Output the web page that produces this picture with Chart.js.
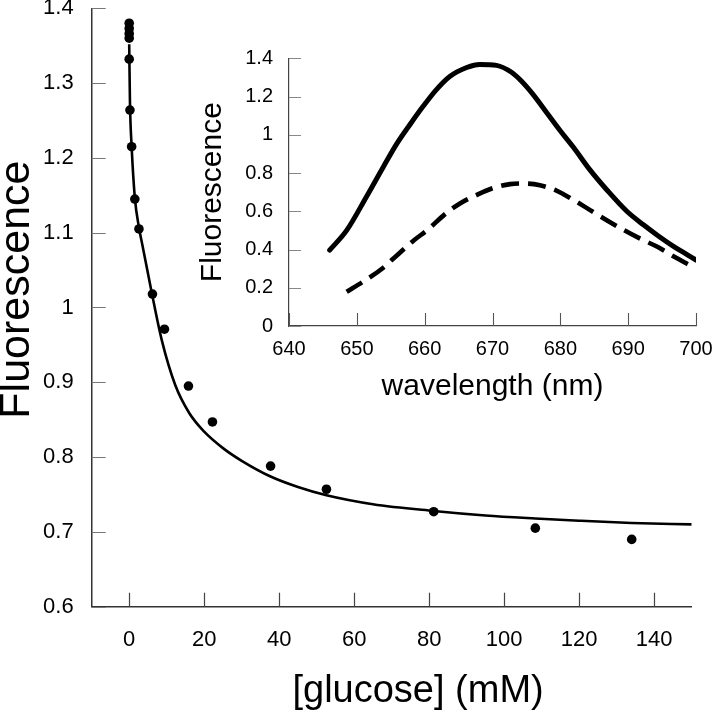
<!DOCTYPE html>
<html><head><meta charset="utf-8">
<script src="https://cdn.jsdelivr.net/npm/chart.js@4.4.1/dist/chart.umd.min.js"></script>
<style>
html,body{margin:0;padding:0;background:#fff;overflow:hidden;}
#wrap{position:relative;width:712px;height:720px;background:#fff;}
#main{position:absolute;left:0;top:0;}
#inset{position:absolute;left:190px;top:30px;}
</style></head><body>
<div id="wrap">
<canvas id="main" width="712" height="720"></canvas>
<canvas id="inset" width="522" height="390"></canvas>
</div>
<script>
// ---- DATA ----
const glucoseMM    = [0, 0, 0, 0, 0, 0.2, 0.65, 1.5, 2.6, 6.2, 9.4, 15.8, 22.2, 37.7, 52.6, 81.2, 108.3, 134];
const fluorescence = [1.380, 1.373, 1.366, 1.360, 1.332, 1.264, 1.215, 1.145, 1.105, 1.018, 0.971, 0.895, 0.847, 0.788, 0.757, 0.727, 0.705, 0.690];

const fitGlucoseMM    = [0, 0.2, 0.65, 1.5, 2.6, 3.5, 6.0, 8.7, 12.3, 16.0, 20.0, 25, 30, 37.7, 45, 52.6, 65, 81.2, 95, 108.3, 120, 134, 150];
const fitFluorescence = [1.352, 1.275, 1.215, 1.147, 1.107, 1.084, 1.020, 0.956, 0.896, 0.859, 0.834, 0.812, 0.795, 0.774, 0.760, 0.749, 0.737, 0.728, 0.722, 0.718, 0.715, 0.712, 0.710];

const mainXTicks = [0, 20, 40, 60, 80, 100, 120, 140];
const mainYTicks = [0.6, 0.7, 0.8, 0.9, 1.0, 1.1, 1.2, 1.3, 1.4];

const wavelengthSolid = [646.0, 648.5, 651.4, 653.9, 655.9, 658.1, 659.8, 661.7, 663.7, 666.2, 668.1, 670.6, 672.8, 674.0, 676.0, 678.0, 679.9, 681.9, 684.4, 686.9, 689.8, 692.3, 694.3, 696.8, 698.8, 700.0];
const fluorSolid      = [0.397, 0.500, 0.675, 0.832, 0.954, 1.067, 1.150, 1.235, 1.305, 1.352, 1.368, 1.363, 1.327, 1.290, 1.210, 1.115, 1.025, 0.936, 0.815, 0.710, 0.600, 0.528, 0.475, 0.414, 0.371, 0.345];

const wavelengthDashed = [648.5, 650.9, 653.9, 655.4, 658.3, 660.5, 663.0, 665.2, 667.6, 669.9, 672.6, 674.6, 677.0, 679.5, 681.9, 684.4, 686.9, 689.3, 691.7, 694.3, 696.8, 699.0];
const fluorDashed      = [0.179, 0.231, 0.305, 0.353, 0.445, 0.505, 0.585, 0.641, 0.684, 0.719, 0.742, 0.745, 0.736, 0.707, 0.660, 0.606, 0.552, 0.503, 0.458, 0.414, 0.362, 0.319];

const insetXTicks = [640, 650, 660, 670, 680, 690, 700];
const insetYTicks = [0, 0.2, 0.4, 0.6, 0.8, 1.0, 1.2, 1.4];

// ---- helpers ----
Chart.defaults.font.family = "'Liberation Sans', Arial, Helvetica, sans-serif";
Chart.defaults.color = '#000';

const pts = (xs, ys) => xs.map((x, i) => ({x: x, y: ys[i]}));
const fmt = v => String(Math.round(v * 10) / 10);

const innerTicks = {
  id: 'innerTicks',
  afterDatasetsDraw(chart, args, opts) {
    const ctx = chart.ctx;
    const xs = chart.scales.x, ys = chart.scales.y;
    const area = chart.chartArea;
    ctx.save();
    ctx.lineWidth = opts.xWidth;
    ctx.strokeStyle = opts.xColor;
    xs.ticks.forEach(t => {
      const px = Math.round(xs.getPixelForValue(t.value)) + 0.5;
      ctx.beginPath(); ctx.moveTo(px, area.bottom); ctx.lineTo(px, area.bottom - opts.xLen); ctx.stroke();
    });
    ctx.lineWidth = opts.yWidth;
    ctx.strokeStyle = opts.yColor;
    ys.ticks.forEach(t => {
      const py = Math.round(ys.getPixelForValue(t.value)) + 0.5;
      ctx.beginPath(); ctx.moveTo(area.left, py); ctx.lineTo(area.left + opts.yLen, py); ctx.stroke();
    });
    ctx.restore();
  }
};

// ---- main chart ----
new Chart(document.getElementById('main'), {
  type: 'scatter',
  data: {
    datasets: [
      { label: 'data', data: pts(glucoseMM, fluorescence), showLine: false,
        pointRadius: 4.8, pointHoverRadius: 4.8, backgroundColor: '#000', borderColor: '#000', borderWidth: 0, order: 0 },
      { label: 'fit', data: pts(fitGlucoseMM, fitFluorescence), showLine: true, pointRadius: 0,
        borderColor: '#000', borderWidth: 2.6, cubicInterpolationMode: 'monotone', fill: false, order: 1 }
    ]
  },
  options: {
    responsive: false, animation: false, devicePixelRatio: 1,
    layout: { padding: { left: 0, top: 8.3, right: 20.3, bottom: 0 } },
    plugins: { legend: { display: false }, tooltip: { enabled: false },
      innerTicks: { xLen: 14, yLen: 14, xColor: '#444', yColor: '#777', xWidth: 1.2, yWidth: 1 } },
    scales: {
      x: {
        type: 'linear', min: -10, max: 150,
        afterBuildTicks: s => { s.ticks = mainXTicks.map(v => ({value: v})); },
        afterFit: s => { s.height = 113.3; s.paddingLeft = 0; s.paddingRight = 0; },
        grid: { display: false, drawTicks: false },
        border: { display: true, color: '#333', width: 1.5 },
        ticks: { padding: 20, font: { size: 22 }, color: '#000', maxRotation: 0, autoSkip: false, callback: v => fmt(v) },
        title: { display: true, text: '     [glucose] (mM)', font: { size: 38 }, color: '#000', padding: { top: 0, bottom: 5.4 } }
      },
      y: {
        type: 'linear', min: 0.6, max: 1.4,
        afterBuildTicks: s => { s.ticks = mainYTicks.map(v => ({value: v})); },
        afterFit: s => { s.width = 91.7; s.paddingTop = 0; s.paddingBottom = 0; },
        grid: { display: false, drawTicks: false },
        border: { display: true, color: '#333', width: 1.5 },
        ticks: { padding: 18, font: { size: 22 }, color: '#000', autoSkip: false, callback: v => fmt(v) },
        title: { display: true, text: '   Fluorescence', font: { size: 43 }, color: '#000', padding: { top: -9, bottom: 0 } }
      }
    }
  },
  plugins: [innerTicks]
});

// ---- inset chart ----
new Chart(document.getElementById('inset'), {
  type: 'scatter',
  data: {
    datasets: [
      { label: 'solid', data: pts(wavelengthSolid, fluorSolid), showLine: true, pointRadius: 0,
        borderColor: '#000', borderWidth: 5, borderCapStyle: 'round', cubicInterpolationMode: 'monotone', fill: false },
      { label: 'dashed', data: pts(wavelengthDashed, fluorDashed), showLine: true, pointRadius: 0,
        borderColor: '#000', borderWidth: 4.6, borderDash: [18, 9], cubicInterpolationMode: 'monotone', fill: false }
    ]
  },
  options: {
    responsive: false, animation: false, devicePixelRatio: 1,
    layout: { padding: { left: 0, top: 28.3, right: 16, bottom: 0 } },
    plugins: { legend: { display: false }, tooltip: { enabled: false },
      innerTicks: { xLen: 13, yLen: 12, xColor: '#555', yColor: '#888', xWidth: 1.1, yWidth: 1 } },
    scales: {
      x: {
        type: 'linear', min: 640, max: 700,
        afterBuildTicks: s => { s.ticks = insetXTicks.map(v => ({value: v})); },
        afterFit: s => { s.height = 94; s.paddingLeft = 0; s.paddingRight = 0; },
        grid: { display: false, drawTicks: false },
        border: { display: true, color: '#444', width: 1.2 },
        ticks: { padding: 11.5, font: { size: 20 }, color: '#000', maxRotation: 0, autoSkip: false, callback: v => fmt(v) },
        title: { display: true, text: 'wavelength (nm)', font: { size: 30 }, color: '#000', padding: { top: 0, bottom: 14.9 } }
      },
      y: {
        type: 'linear', min: 0, max: 1.4,
        afterBuildTicks: s => { s.ticks = insetYTicks.map(v => ({value: v})); },
        afterFit: s => { s.width = 99; s.paddingTop = 0; s.paddingBottom = 0; },
        grid: { display: false, drawTicks: false },
        border: { display: true, color: '#444', width: 1.2 },
        ticks: { padding: 16, font: { size: 20 }, color: '#000', autoSkip: false, callback: v => fmt(v) },
        title: { display: true, text: 'Fluorescence', font: { size: 30 }, color: '#000', padding: { top: 4.9, bottom: 0 } }
      }
    }
  },
  plugins: [innerTicks]
});
</script>
</body></html>
